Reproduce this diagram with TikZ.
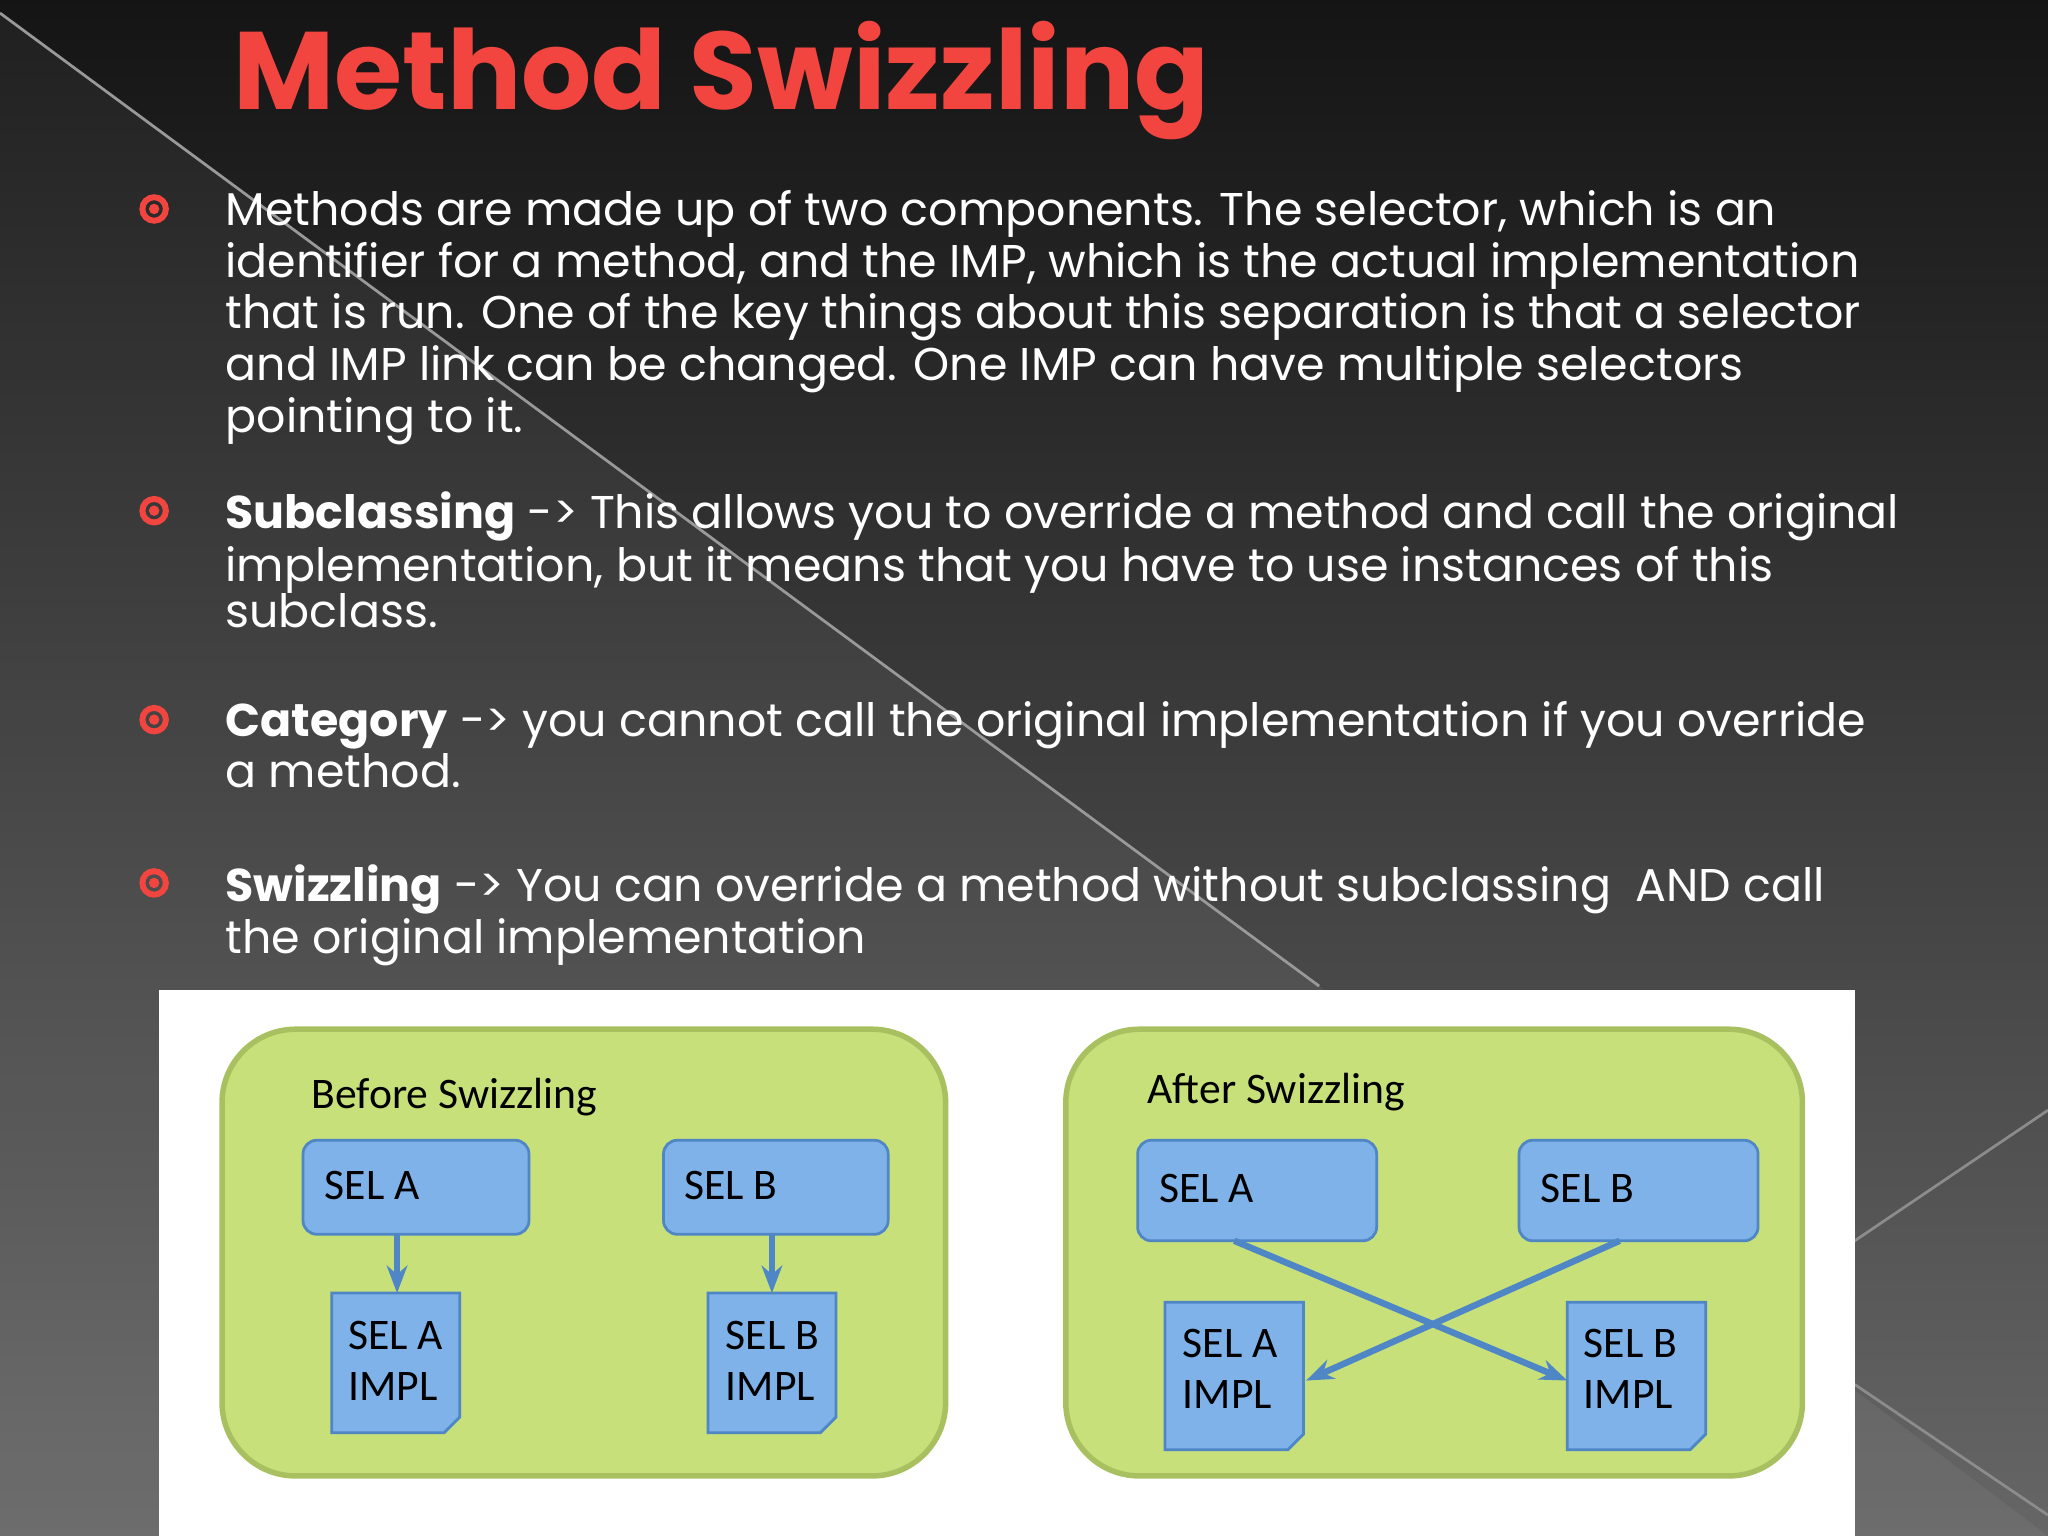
\documentclass[tikz,border=0pt]{standalone}
\usepackage{fontspec}
\setmainfont{Poppins}
\newfontfamily\carlfont{Carlito}
\usetikzlibrary{shapes.symbols,arrows.meta}
\definecolor{ttl}{HTML}{F2453F}
\definecolor{grn}{HTML}{C8E07A}
\definecolor{grnb}{HTML}{A9C060}
\definecolor{blu}{HTML}{7FB2E8}
\definecolor{blub}{HTML}{4E86C6}
\tikzset{
  body/.style={anchor=north west,align=left,text=white,font=\fontsize{10}{10.1}\selectfont,inner sep=0pt},
  grp/.style={draw=grnb,line width=1.2pt,fill=grn,rounded corners=16pt},
  sel/.style={draw=blub,fill=blu,rounded corners=3pt,line width=0.6pt},
  doc/.style={draw=blub,fill=blu,line width=0.6pt},
  lbl/.style={font=\carlfont\fontsize{9.5}{11}\selectfont,text=black,anchor=west,inner sep=0pt,align=left},
  arr/.style={draw=blub,line width=1.4pt,-{Stealth[length=6pt]}}
}
\newcommand{\bul}[2]{\fill[ttl] (#1,#2) circle (4); \draw[ttl,line width=1.3pt] (#1,#2) circle (9);}
\begin{document}
\begin{tikzpicture}[x=0.01cm,y=-0.01cm]
\useasboundingbox (0,0) rectangle (1568,1176);
\shade[top color=black!92,bottom color=black!60] (0,0) rectangle (1568,1176);
\fill[white,opacity=0.05] (0,10) -- (1010,755) -- (1568,1176) -- (0,1176) -- cycle;
\draw[white!60!black,line width=0.6pt] (0,10) -- (1010,755);
\draw[white!55!black,line width=0.6pt] (1568,850) -- (1420,950);
\draw[white!55!black,line width=0.6pt] (1420,1060) -- (1568,1160);
\node[anchor=west,text=ttl,font=\bfseries\fontsize{24}{28}\selectfont,inner sep=0pt] (title) at (178,62) {Method Swizzling};
\bul{118}{160}\bul{118}{391}\bul{118}{551}\bul{118}{676}
\node[body] (p1) at (172,145) {Methods are made up of two components. The selector, which is an\\identifier for a method, and the IMP, which is the actual implementation\\that is run. One of the key things about this separation is that a selector\\and IMP link can be changed. One IMP can have multiple selectors\\pointing to it.};
\node[body] (p2) at (172,376) {\textbf{Subclassing} -> This allows you to override a method and call the original\\implementation, but it means that you have to use instances of this\\subclass.};
\node[body] (p3) at (172,536) {\textbf{Category} -> you cannot call the original implementation if you override\\a method.};
\node[body] (p4) at (172,661) {\textbf{Swizzling} -> You can override a method without subclassing\ \ AND call\\the original implementation};
\fill[white] (122,758) rectangle (1420,1176);
\draw[grp] (170,788) rectangle (724,1130);
\draw[grp] (816,788) rectangle (1380,1130);
\node[lbl] (bt) at (238,840) {Before Swizzling};
\node[lbl] (at) at (878,836) {After Swizzling};
% left group
\draw[sel] (232,873) rectangle (405,945); \node[lbl] (la) at (248,908) {SEL A};
\coordinate (las) at (304,945);
\draw[sel] (508,873) rectangle (680,945); \node[lbl] (lb) at (523,908) {SEL B};
\coordinate (lbs) at (591,945);
\draw[doc] (254,990) -- (352,990) -- (352,1085) -- (340,1097) -- (254,1097) -- cycle;
\node[lbl] (lai) at (266,1042) {SEL A\\IMPL};
\coordinate (lae) at (304,990);
\draw[doc] (542,990) -- (640,990) -- (640,1085) -- (628,1097) -- (542,1097) -- cycle;
\node[lbl] (lbi) at (555,1042) {SEL B\\IMPL};
\coordinate (lbe) at (591,990);
\draw[arr] (las) -- (lae);
\draw[arr] (lbs) -- (lbe);
% right group
\draw[sel] (871,873) rectangle (1054,950); \node[lbl] (ra) at (887,910) {SEL A};
\coordinate (ras) at (945,950);
\draw[sel] (1163,873) rectangle (1346,950); \node[lbl] (rb) at (1179,910) {SEL B};
\coordinate (rbs) at (1240,950);
\draw[doc] (892,997) -- (998,997) -- (998,1098) -- (986,1110) -- (892,1110) -- cycle;
\node[lbl] (rai) at (905,1048) {SEL A\\IMPL};
\coordinate (rae) at (1000,1057);
\draw[doc] (1200,997) -- (1306,997) -- (1306,1098) -- (1294,1110) -- (1200,1110) -- cycle;
\node[lbl] (rbi) at (1212,1048) {SEL B\\IMPL};
\coordinate (rbe) at (1200,1057);
\draw[arr] (ras) -- (rbe);
\draw[arr] (rbs) -- (rae);
\end{tikzpicture}
\end{document}
